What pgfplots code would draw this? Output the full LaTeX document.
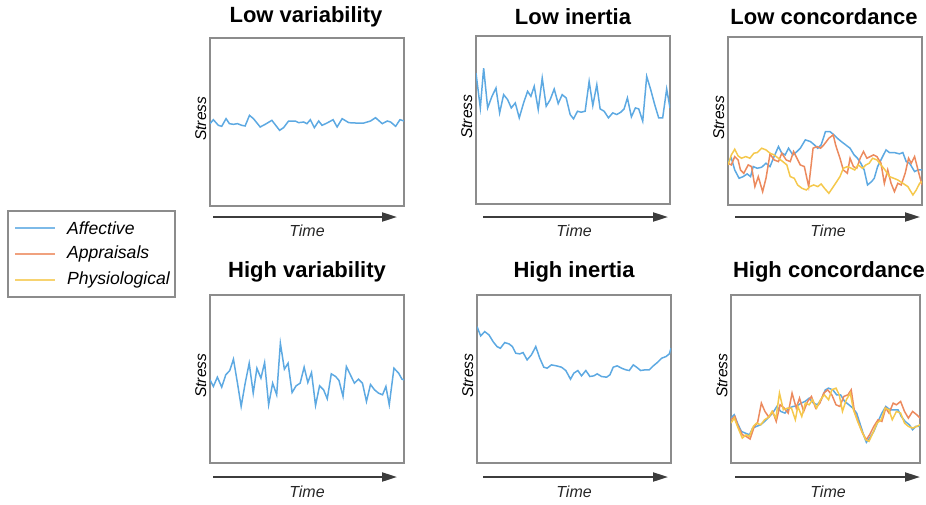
\documentclass[border=0pt]{standalone}
\usepackage{pgfplots}
\pgfplotsset{compat=1.18}
\usepackage{fontspec}
\setmainfont{Liberation Sans}
\usetikzlibrary{arrows.meta}
\definecolor{cblue}{HTML}{5DA9E2}
\definecolor{corange}{HTML}{EC8A5E}
\definecolor{cyellow}{HTML}{F5C84C}
\definecolor{cbox}{HTML}{8C8C8C}
\definecolor{carrow}{HTML}{3C3C3C}
\pgfplotsset{
  panel/.style={
    scale only axis, width=97pt, height=84pt,
    xmin=0, ymin=0, axis line style={cbox, line width=0.8pt},
    xtick=\empty, ytick=\empty, anchor=north west,
    ylabel={\fontsize{7.8}{9}\selectfont\itshape Stress},
    ylabel style={at={(axis description cs:-0.048,0.52)}, anchor=center},
    clip=true,
  },
  sb/.style={cblue, line width=0.75pt},
  so/.style={corange, line width=0.75pt},
  sy/.style={cyellow, line width=0.75pt},
}
\newcommand{\px}[1]{#1*0.5pt}
\begin{document}
\begin{tikzpicture}[x=0.5pt,y=-0.5pt]
\path (0,0) rectangle (926,504);
% Titles
\tikzset{ttl/.style={font=\fontsize{11}{13}\selectfont\bfseries, anchor=center}}
\node[ttl] at (306,17) {Low variability};
\node[ttl] at (573,17) {Low inertia};
\node[ttl] at (824,17) {Low concordance};
\node[ttl] at (307,272) {High variability};
\node[ttl] at (574,272) {High inertia};
\node[ttl] at (829,272) {High concordance};
% Arrows and Time labels
\tikzset{arr/.style={carrow, line width=1pt, -{Triangle[length=7.5pt,width=4.5pt]}},
         tm/.style={font=\fontsize{8}{10}\selectfont\itshape, color=black!85}}
\draw[arr] (213,217) -- (397,217);
\draw[arr] (483,217) -- (668,217);
\draw[arr] (735,217) -- (920,217);
\draw[arr] (213,477) -- (397,477);
\draw[arr] (483,477) -- (668,477);
\draw[arr] (735,477) -- (920,477);
\node[tm] at (307,231) {Time};
\node[tm] at (574,231) {Time};
\node[tm] at (828,231) {Time};
\node[tm] at (307,492) {Time};
\node[tm] at (574,492) {Time};
\node[tm] at (828,492) {Time};
% Legend
\draw[cbox, line width=0.8pt] (8,211) rectangle (175,297);
\draw[cblue!80, line width=0.8pt] (15,228) -- (55,228);
\draw[corange!80, line width=0.8pt] (15,254) -- (55,254);
\draw[cyellow!80, line width=0.8pt] (15,280) -- (55,280);
\tikzset{lg/.style={font=\fontsize{8.8}{10}\selectfont\itshape, anchor=west}}
\node[lg] at (60,228) {Affective};
\node[lg] at (60,254) {Appraisals};
\node[lg] at (60,280) {Physiological};

% Panel 1: Low variability
\begin{axis}[panel, at={(\px{210},\px{-38})}, xmax=580, ymax=506]
\addplot[sb] coordinates {(0,248)(10,260)(25,243)(35,240)(48,263)(58,248)(70,246)(82,248)(95,243)(105,241)(118,273)(130,263)(150,238)(165,246)(185,258)(208,228)(220,236)(235,256)(255,256)(265,251)(280,253)(290,248)(300,260)(312,236)(325,256)(335,243)(350,250)(368,260)(380,238)(395,263)(415,251)(435,250)(460,250)(480,256)(495,266)(515,248)(530,256)(540,253)(555,240)(568,260)(580,256)};
\end{axis}

% Panel 2: Low inertia
\begin{axis}[panel, at={(\px{476},\px{-36})}, xmax=583, ymax=507]
\addplot[sb] coordinates {(0,395)(13,290)(23,410)(35,290)(48,325)(60,350)(71,275)(83,330)(95,315)(106,290)(118,305)(130,260)(143,305)(155,340)(165,325)(175,355)(187,285)(199,380)(211,295)(223,315)(235,347)(247,303)(259,330)(271,320)(283,270)(293,257)(305,280)(316,277)(328,280)(340,370)(351,297)(363,360)(373,287)(385,280)(398,260)(411,275)(423,270)(435,277)(445,287)(455,320)(467,263)(479,290)(489,287)(501,250)(513,385)(525,345)(537,300)(549,260)(561,260)(573,347)(583,290)};
\end{axis}

% Panel 3: Low concordance
\begin{axis}[panel, at={(\px{728},\px{-37})}, xmax=577, ymax=503]
\addplot[sb] coordinates {(0,130)(10,140)(20,105)(33,80)(45,85)(57,93)(67,85)(75,115)(87,110)(100,113)(113,125)(125,115)(135,140)(150,175)(160,155)(170,150)(180,170)(193,150)(205,160)(215,170)(230,195)(245,190)(257,180)(267,170)(277,180)(290,220)(303,220)(315,210)(325,200)(337,190)(350,180)(363,170)(375,150)(385,140)(395,125)(405,105)(415,60)(427,70)(435,80)(445,115)(455,135)(470,165)(480,157)(495,157)(510,153)(520,157)(530,130)(540,125)(555,100)(565,105)(577,105)};
\addplot[so] coordinates {(0,125)(10,120)(20,145)(30,135)(37,105)(47,95)(60,120)(70,115)(80,55)(90,85)(103,40)(113,80)(125,153)(137,135)(150,130)(160,155)(173,135)(185,130)(195,160)(205,140)(215,120)(227,115)(240,55)(253,170)(265,175)(275,170)(285,180)(300,200)(313,210)(320,180)(333,140)(343,105)(355,95)(363,140)(373,115)(383,110)(393,140)(403,160)(413,140)(423,145)(433,150)(443,145)(455,125)(465,65)(475,105)(485,65)(495,40)(505,65)(515,60)(527,95)(537,140)(545,125)(555,145)(565,105)(577,60)};
\addplot[sy] coordinates {(0,120)(10,150)(20,167)(30,147)(40,140)(53,145)(65,140)(77,155)(87,157)(100,170)(113,165)(125,155)(137,150)(150,140)(163,130)(175,120)(185,85)(197,80)(207,60)(220,50)(233,45)(243,55)(255,60)(267,55)(277,63)(287,50)(300,35)(310,50)(320,65)(333,85)(343,110)(355,115)(367,110)(377,105)(387,120)(400,110)(410,120)(420,125)(430,140)(443,135)(455,120)(467,105)(480,85)(493,80)(505,75)(520,65)(535,55)(550,30)(560,45)(570,65)(577,70)};
\end{axis}

% Panel 4: High variability
\begin{axis}[panel, at={(\px{210},\px{-295})}, xmax=579, ymax=505]
\addplot[sb] coordinates {(0,250)(10,230)(22,258)(35,228)(47,265)(59,278)(70,312)(82,240)(93,170)(105,240)(117,300)(129,210)(140,285)(152,255)(163,302)(175,175)(187,240)(199,205)(210,360)(222,282)(233,300)(245,212)(257,232)(269,240)(281,288)(292,242)(303,272)(315,173)(327,232)(339,220)(350,193)(362,268)(375,260)(385,248)(397,200)(407,290)(419,265)(431,240)(443,252)(455,240)(467,185)(479,236)(491,220)(503,210)(515,205)(525,230)(535,175)(549,285)(563,270)(573,252)(579,250)};
\end{axis}

% Panel 5: High inertia
\begin{axis}[panel, at={(\px{477},\px{-295})}, xmax=581, ymax=505]
\addplot[sb] coordinates {(0,410)(11,382)(23,395)(36,385)(48,365)(60,350)(70,345)(83,362)(96,358)(106,350)(116,330)(128,328)(138,332)(150,310)(163,325)(176,350)(188,315)(200,288)(210,285)(223,295)(238,292)(253,288)(266,278)(280,252)(290,270)(302,278)(313,262)(326,278)(338,260)(350,262)(360,268)(373,260)(388,258)(398,265)(408,288)(420,292)(433,285)(446,280)(456,278)(468,295)(478,288)(490,278)(503,280)(516,280)(528,292)(540,302)(553,315)(566,320)(576,328)(581,345)};
\end{axis}

% Panel 6: High concordance
\begin{axis}[panel, at={(\px{731},\px{-295})}, width=94.5pt, xmax=585, ymax=505]
\addplot[sb] coordinates {(0,135)(10,145)(20,120)(32,95)(44,90)(57,85)(67,105)(79,110)(92,115)(104,125)(117,138)(129,150)(142,170)(154,155)(167,150)(179,165)(192,170)(205,172)(217,180)(229,185)(242,195)(255,180)(267,175)(279,190)(292,220)(302,225)(315,220)(327,205)(339,205)(352,185)(365,175)(377,165)(389,150)(402,110)(412,80)(419,62)(429,75)(442,95)(455,125)(467,150)(479,170)(492,160)(505,160)(517,160)(527,140)(539,125)(552,115)(562,100)(572,110)(585,110)};
\addplot[so] coordinates {(0,130)(12,140)(22,110)(35,85)(47,80)(59,72)(72,110)(82,120)(94,180)(105,155)(117,138)(129,155)(140,125)(152,175)(165,165)(177,150)(189,210)(202,165)(212,195)(225,155)(237,185)(249,200)(262,165)(275,180)(287,210)(299,220)(312,205)(325,175)(337,170)(349,200)(362,205)(372,220)(382,155)(395,120)(407,90)(419,70)(429,85)(442,110)(455,130)(467,125)(479,165)(489,150)(502,180)(512,175)(525,185)(537,155)(549,135)(562,155)(575,145)(585,135)};
\addplot[sy] coordinates {(0,120)(10,135)(22,105)(35,75)(47,85)(57,80)(69,110)(79,120)(92,115)(104,130)(117,138)(127,155)(139,135)(150,210)(162,160)(175,165)(187,165)(199,130)(207,170)(219,140)(230,180)(242,175)(252,190)(265,165)(277,190)(289,205)(302,190)(312,220)(325,225)(335,205)(345,155)(357,190)(369,210)(379,160)(392,125)(405,95)(417,70)(427,65)(439,90)(452,120)(465,130)(477,165)(489,160)(499,130)(512,155)(525,150)(537,120)(549,110)(562,105)(575,110)(585,115)};
\end{axis}
\pgfresetboundingbox
\useasboundingbox (0,0) rectangle (926,504);
\end{tikzpicture}
\end{document}
